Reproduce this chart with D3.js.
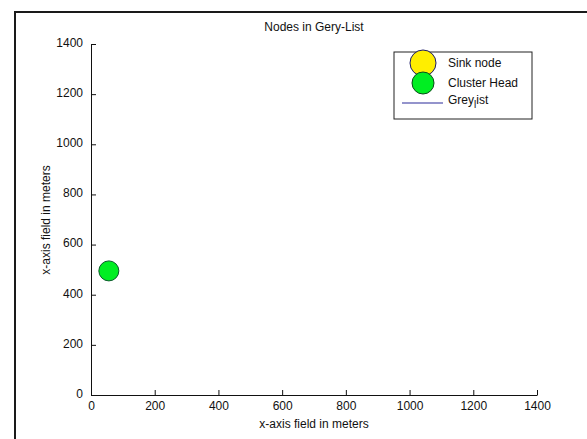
<!DOCTYPE html>
<html><head><meta charset="utf-8">
<script src="https://cdn.jsdelivr.net/npm/d3@7"></script>
<style>body{margin:0;background:#fff}svg{display:block}text{font-family:"Liberation Sans",Arial,sans-serif;fill:#111}</style>
</head><body>
<script>
const xTicks = [0,200,400,600,800,1000,1200,1400];
const yTicks = [0,200,400,600,800,1000,1200,1400];
const clusterHeads = [{x:56, y:495}];
const legendItems = ["Sink node","Cluster Head","Greylist"];
const titleText = "Nodes in Gery-List";
const xLabel = "x-axis field in meters";
const yLabel = "x-axis field in meters";

const W=587,H=439;
const svg=d3.select("body").append("svg").attr("width",W).attr("height",H);
svg.append("rect").attr("width",W).attr("height",H).attr("fill","#fff");
// outer frame
svg.append("path").attr("d",`M15,${H} V12 H${W}`).attr("fill","none").attr("stroke","#1a1a1a").attr("stroke-width",2);

const x=d3.scaleLinear().domain([0,1400]).range([91,537]);
const y=d3.scaleLinear().domain([0,1400]).range([395,44]);

const gx=svg.append("g").attr("transform","translate(0,395)")
 .call(d3.axisBottom(x).tickValues(xTicks).tickSizeInner(-5).tickSizeOuter(0).tickPadding(6).tickFormat(d3.format("d")));
const gy=svg.append("g").attr("transform","translate(91,0)")
 .call(d3.axisLeft(y).tickValues(yTicks).tickSizeInner(-5).tickSizeOuter(0).tickPadding(8).tickFormat(d3.format("d")));
[gx,gy].forEach(g=>{g.select(".domain").attr("stroke","#111");g.selectAll(".tick line").attr("stroke","#111");
 g.selectAll("text").attr("font-size",12).attr("font-family","Liberation Sans, Arial, sans-serif").attr("fill","#222");});
gy.selectAll(".tick text").attr("dy","0.2em");
gx.selectAll(".tick text").attr("dy","0.75em");

svg.append("text").attr("x",314).attr("y",31).attr("text-anchor","middle").attr("font-size",12).text(titleText);
svg.append("text").attr("x",314).attr("y",428).attr("text-anchor","middle").attr("font-size",12).text(xLabel);
svg.append("text").attr("transform","translate(50,220) rotate(-90)").attr("text-anchor","middle").attr("font-size",12).text(yLabel);

svg.selectAll("circle.ch").data(clusterHeads).enter().append("circle").attr("class","ch")
 .attr("cx",d=>x(d.x)).attr("cy",d=>y(d.y)).attr("r",10).attr("fill","#00ee22").attr("stroke","#0a5a2a").attr("stroke-width",1);

// legend
const lg=svg.append("g");
lg.append("rect").attr("x",394).attr("y",52).attr("width",138).attr("height",67).attr("fill","#fff").attr("stroke","#222").attr("stroke-width",1);
lg.append("circle").attr("cx",423).attr("cy",63).attr("r",13).attr("fill","#ffee00").attr("stroke","#1a1a6a");
lg.append("circle").attr("cx",423).attr("cy",83).attr("r",11).attr("fill","#00ee22").attr("stroke","#0a4a1a");
lg.append("line").attr("x1",402).attr("x2",443).attr("y1",103).attr("y2",103).attr("stroke","#2a2a9a").attr("stroke-width",1.2);
const ly=[67,87,104];
legendItems.forEach((t,i)=>{
  const tx=lg.append("text").attr("x",448).attr("y",ly[i]).attr("font-size",12);
  if(t==="Greylist"){tx.append("tspan").text("Grey");tx.append("tspan").attr("font-size",10).attr("dy",4).text("l");tx.append("tspan").attr("dy",-4).text("ist");}
  else tx.text(t);
});
</script>
</body></html>
